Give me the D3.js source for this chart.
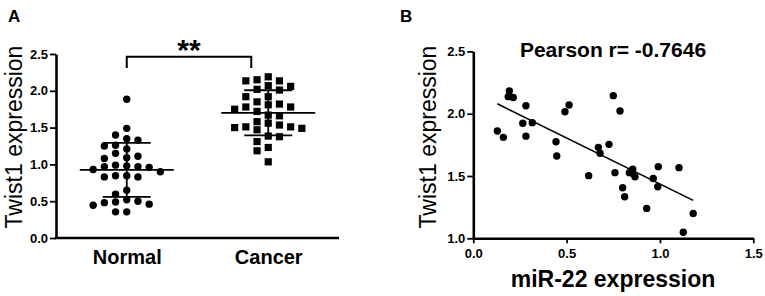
<!DOCTYPE html>
<html>
<head>
<meta charset="utf-8">
<script src="https://cdn.jsdelivr.net/npm/d3@7"></script>
<style>
  html, body { margin: 0; padding: 0; background: #fff; }
  svg { display: block; font-family: "Liberation Sans", Arial, sans-serif; }
</style>
</head>
<body>
<svg id="chart" width="765" height="296"></svg>
<script>
// ---- panel A: Twist1 expression by group ----
const groups = ["Normal", "Cancer"];
const yTicksA = [0, 0.5, 1.0, 1.5, 2.0, 2.5];
const normalTwist1 = [
  1.886, 1.49, 1.40, 1.33, 1.35, 1.25, 1.21, 1.26, 1.11, 1.15, 1.08,
  1.09, 0.99, 0.97, 0.97, 0.98, 0.96, 0.93, 0.90, 0.845, 0.83, 0.83,
  0.845, 0.65, 0.595, 0.52, 0.50, 0.48, 0.445, 0.46, 0.49, 0.355, 0.355
];
const cancerTwist1 = [
  2.19, 2.15, 2.135, 2.135, 2.07, 2.06, 2.02, 2.01, 1.92, 1.92, 1.82,
  1.85, 1.81, 1.78, 1.78, 1.75, 1.72, 1.67, 1.66, 1.58, 1.47, 1.56,
  1.535, 1.51, 1.50, 1.49, 1.51, 1.385, 1.376, 1.31, 1.23, 1.185, 1.035
];
const sigLabel = "**";

// ---- panel B: correlation miR-22 vs Twist1 ----
const xTicksB = [0, 0.5, 1.0, 1.5];
const yTicksB = [1.0, 1.5, 2.0, 2.5];
const miR22 = [
  0.129, 0.161, 0.193, 0.187, 0.214, 0.282, 0.265, 0.316, 0.282, 0.443, 0.447,
  0.491, 0.513, 0.618, 0.670, 0.679, 0.727, 0.750, 0.786, 0.759, 0.800, 0.811,
  0.836, 0.854, 0.854, 0.866, 0.929, 0.964, 0.991, 0.988, 1.102, 1.178, 1.125
];
const twist1 = [
  1.861, 1.81, 2.182, 2.137, 2.13, 2.064, 1.923, 1.928, 1.82, 1.775, 1.66,
  2.016, 2.07, 1.503, 1.73, 1.682, 1.754, 2.145, 2.022, 1.527, 1.406, 1.334,
  1.527, 1.554, 1.52, 1.494, 1.24, 1.48, 1.575, 1.414, 1.567, 1.20, 1.048
];
const pearsonR = -0.7646;

const svg = d3.select("#chart");
svg.append("rect").attr("width", 765).attr("height", 296).attr("fill", "#fff");

function styleAxis(g) {
  g.select(".domain").attr("stroke", "#000").attr("stroke-width", 2.6);
  g.selectAll(".tick line").attr("stroke", "#000").attr("stroke-width", 1.8);
  g.selectAll(".tick text")
    .attr("fill", "#000")
    .attr("font-size", 13)
    .attr("font-weight", "bold")
    .attr("font-family", "Liberation Sans, Arial, sans-serif");
}

// ===== PANEL A =====
const xA = d3.scalePoint().domain(groups).range([56, 339]).padding(0.5);
const yA = d3.scaleLinear().domain([0, 2.5]).range([238, 54]);

svg.append("g")
  .attr("transform", `translate(56,0)`)
  .call(d3.axisLeft(yA).tickValues(yTicksA).tickFormat(d3.format(".1f")).tickSize(6).tickSizeOuter(0).tickPadding(2))
  .call(styleAxis);

const gxA = svg.append("g")
  .attr("transform", `translate(0,238)`)
  .call(d3.axisBottom(xA).tickSize(0).tickSizeOuter(0).tickPadding(8))
  .call(styleAxis);
gxA.select(".domain").attr("d", "M55,0H339");
gxA.selectAll(".tick text").attr("font-size", 20).attr("dy", "0.9em");

// simple column scatter layout: slot columns, avoid vertical overlap
function swarmCols(values, minDy) {
  const order = d3.range(values.length).sort((a, b) => values[b] - values[a]);
  const placed = [];
  const cols = new Array(values.length);
  for (const i of order) {
    const py = yA(values[i]);
    for (let k = 0; k < 20; k++) {
      const c = k === 0 ? 0 : (k % 2 ? -Math.ceil(k / 2) : Math.ceil(k / 2));
      if (!placed.some(p => p.col === c && Math.abs(p.py - py) < minDy)) {
        placed.push({ col: c, py });
        cols[i] = c;
        break;
      }
    }
  }
  return cols;
}

const slot = 11.2;
const groupData = [
  { name: "Normal", values: normalTwist1, shape: "circle" },
  { name: "Cancer", values: cancerTwist1, shape: "square" }
];

for (const gd of groupData) {
  const cx = xA(gd.name);
  const cols = swarmCols(gd.values, 7.6);
  const pts = gd.values.map((v, i) => ({ v, c: cols[i] }));
  const g = svg.append("g");
  if (gd.shape === "circle") {
    g.selectAll("circle").data(pts).enter().append("circle")
      .attr("cx", d => cx + d.c * slot)
      .attr("cy", d => yA(d.v))
      .attr("r", 3.7)
      .attr("fill", "#000");
  } else {
    g.selectAll("rect").data(pts).enter().append("rect")
      .attr("x", d => cx + d.c * slot - 3.6)
      .attr("y", d => yA(d.v) - 3.6)
      .attr("width", 7.2)
      .attr("height", 7.2)
      .attr("fill", "#000");
  }

  // mean +/- SD
  const m = d3.mean(gd.values);
  const sd = d3.deviation(gd.values);
  const s = svg.append("g").attr("stroke", "#000").attr("stroke-width", 1.8);
  s.append("line").attr("x1", cx - 47).attr("x2", cx + 47).attr("y1", yA(m)).attr("y2", yA(m));
  s.append("line").attr("x1", cx).attr("x2", cx).attr("y1", yA(m - sd)).attr("y2", yA(m + sd));
  s.append("line").attr("x1", cx - 24).attr("x2", cx + 24).attr("y1", yA(m + sd)).attr("y2", yA(m + sd));
  s.append("line").attr("x1", cx - 24).attr("x2", cx + 24).attr("y1", yA(m - sd)).attr("y2", yA(m - sd));
}

// significance bracket
const bx1 = xA("Normal"), bx2 = xA("Cancer") - 17;
svg.append("path")
  .attr("d", `M${bx1},68V56.7H${bx2}V68`)
  .attr("fill", "none").attr("stroke", "#000").attr("stroke-width", 2);
svg.append("text")
  .attr("x", (bx1 + bx2) / 2).attr("y", 60)
  .attr("text-anchor", "middle")
  .attr("font-size", 30).attr("font-weight", "bold")
  .text(sigLabel);

svg.append("text")
  .attr("transform", "translate(21.5,137) rotate(-90)")
  .attr("text-anchor", "middle")
  .attr("font-size", 23)
  .text("Twist1 expression");

svg.append("text").attr("x", 8).attr("y", 22)
  .attr("font-size", 17).attr("font-weight", "bold").text("A");

// ===== PANEL B =====
const xB = d3.scaleLinear().domain([0, 1.5]).range([473.3, 753.3]);
const yB = d3.scaleLinear().domain([1.0, 2.5]).range([238.3, 51.4]);

svg.append("g")
  .attr("transform", `translate(473.3,0)`)
  .call(d3.axisLeft(yB).tickValues(yTicksB).tickFormat(d3.format(".1f")).tickSize(6).tickSizeOuter(0).tickPadding(2))
  .call(styleAxis);

svg.append("g")
  .attr("transform", `translate(0,238.3)`)
  .call(d3.axisBottom(xB).tickValues(xTicksB).tickFormat(d3.format(".1f")).tickSize(5).tickSizeOuter(0).tickPadding(5))
  .call(styleAxis);

const ptsB = miR22.map((x, i) => ({ x, y: twist1[i] }));

// least squares fit
const mx = d3.mean(miR22), my = d3.mean(twist1);
const slope = d3.sum(ptsB, d => (d.x - mx) * (d.y - my)) / d3.sum(ptsB, d => (d.x - mx) ** 2);
const icpt = my - slope * mx;
const [xmin, xmax] = d3.extent(miR22);

svg.append("line")
  .attr("x1", xB(xmin)).attr("y1", yB(icpt + slope * xmin))
  .attr("x2", xB(xmax)).attr("y2", yB(icpt + slope * xmax))
  .attr("stroke", "#000").attr("stroke-width", 1.6);

svg.append("g").selectAll("circle").data(ptsB).enter().append("circle")
  .attr("cx", d => xB(d.x))
  .attr("cy", d => yB(d.y))
  .attr("r", 3.7)
  .attr("fill", "#000");

svg.append("text")
  .attr("x", 613).attr("y", 57)
  .attr("text-anchor", "middle")
  .attr("font-size", 21).attr("font-weight", "bold")
  .text(`Pearson r= ${pearsonR}`);

svg.append("text")
  .attr("x", 613).attr("y", 287)
  .attr("text-anchor", "middle")
  .attr("font-size", 23).attr("font-weight", "bold")
  .text("miR-22 expression");

svg.append("text")
  .attr("transform", "translate(436,137) rotate(-90)")
  .attr("text-anchor", "middle")
  .attr("font-size", 23)
  .text("Twist1 expression");

svg.append("text").attr("x", 400).attr("y", 22)
  .attr("font-size", 17).attr("font-weight", "bold").text("B");
</script>
</body>
</html>
